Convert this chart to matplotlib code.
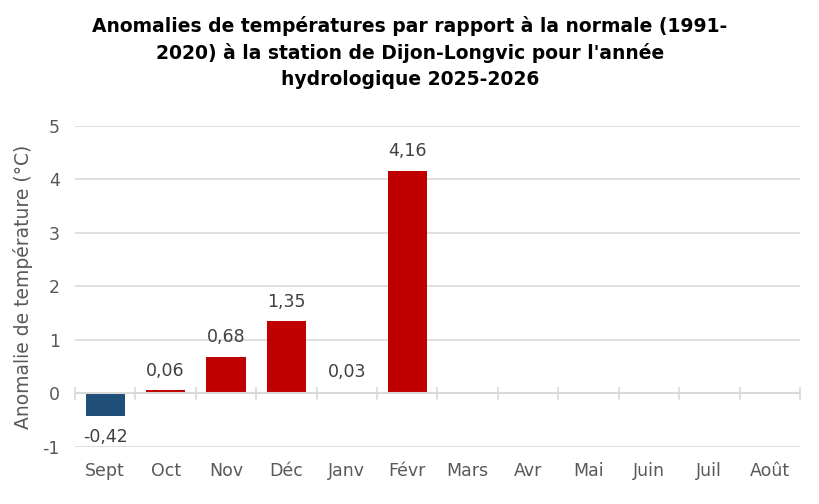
import matplotlib
matplotlib.use("Agg")
import matplotlib.pyplot as plt
import numpy as np

months = ["Sept", "Oct", "Nov", "Déc", "Janv", "Févr", "Mars", "Avr", "Mai", "Juin", "Juil", "Août"]
values = [-0.42, 0.06, 0.68, 1.35, 0.03, 4.16]
labels = ["-0,42", "0,06", "0,68", "1,35", "0,03", "4,16"]

plt.rcParams['font.family'] = ['DejaVu Sans']

fig = plt.figure(figsize=(8.2, 5.04), dpi=100)
ax = fig.add_axes([0.0915, 0.1131, 0.884, 0.6369])

x = np.arange(len(months))
colors = ["#1F4E79" if v < 0 else "#C00000" for v in values]
ax.bar(x[:len(values)], values, width=0.65, color=colors, zorder=3)

for xi, v, lab in zip(x, values, labels):
    if v < 0:
        ax.text(xi, v - 0.22, lab, ha='center', va='top', fontsize=12.5, color='#404040')
    else:
        ax.text(xi, v + 0.2, lab, ha='center', va='bottom', fontsize=12.5, color='#404040')

ax.set_xlim(-0.5, len(months) - 0.5)
ax.set_ylim(-1, 5)
ax.set_yticks(range(-1, 6))
ax.set_yticklabels([str(i) for i in range(-1, 6)])
ax.yaxis.grid(True, color='#D9D9D9', linewidth=1.2, zorder=0)
ax.set_axisbelow(True)
for s in ax.spines.values():
    s.set_visible(False)
ax.axhline(0, color='#D9D9D9', linewidth=1.5, zorder=4)
for b in np.arange(-0.5, len(months) + 0.5, 1):
    ax.plot([b, b], [-0.1, 0.1], color='#D9D9D9', linewidth=1.2, zorder=4, clip_on=False)

ax.tick_params(axis='y', length=0, labelsize=12.5, labelcolor='#595959', pad=11)
ax.set_xticks(x)
ax.set_xticklabels(months)
ax.tick_params(axis='x', length=0, labelsize=12.5, labelcolor='#595959', pad=11)
ax.set_ylabel("Anomalie de température (°C)", fontsize=13.5, color='#595959', labelpad=7)

fig.text(0.5, 0.968, "Anomalies de températures par rapport à la normale (1991-\n2020) à la station de Dijon-Longvic pour l'année\nhydrologique 2025-2026",
         ha='center', va='top', fontsize=13.5, fontweight='bold', color='black', linespacing=1.45)

fig.savefig("out.png", dpi=100)
